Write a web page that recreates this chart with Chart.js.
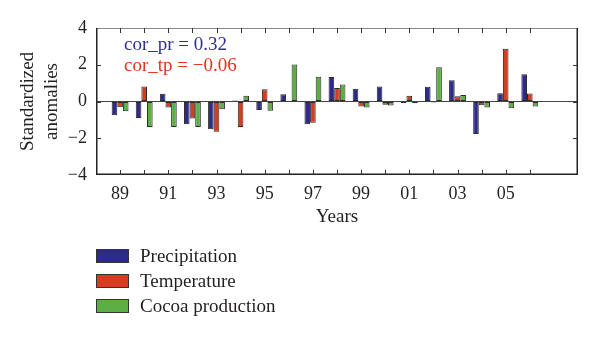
<!DOCTYPE html>
<html>
<head>
<meta charset="utf-8">
<script src="https://cdn.jsdelivr.net/npm/chart.js@4.4.1/dist/chart.umd.min.js"></script>
<style>
  html, body { margin: 0; padding: 0; background: #fff; }
  #wrap { position: relative; width: 600px; height: 338px; }
  #legend { position: absolute; left: 96px; top: 243px; font-family: "Liberation Serif", serif; font-size: 19px; color: #231f20; }
  .item { display: flex; align-items: center; height: 25px; }
  .swatch { width: 33px; height: 14px; border: 1px solid #333; box-sizing: border-box; margin-right: 11px; }
</style>
</head>
<body>
<div id="wrap">
  <canvas id="chart" width="600" height="338"></canvas>
  <div id="legend"></div>
</div>
<script>
const years = [1989, 1990, 1991, 1992, 1993, 1994, 1995, 1996, 1997, 1998, 1999, 2000, 2001, 2002, 2003, 2004, 2005, 2006];
const precipitation = [-0.75, -0.9, 0.42, -1.24, -1.51, 0.05, -0.46, 0.4, -1.24, 1.33, 0.69, 0.82, -0.08, 0.8, 1.16, -1.77, 0.45, 1.48];
const temperature = [-0.31, 0.82, -0.33, -0.93, -1.64, -1.39, 0.67, 0.02, -1.15, 0.73, -0.27, -0.18, 0.31, -0.05, 0.29, -0.2, 2.87, 0.44];
const cocoa = [-0.53, -1.39, -1.39, -1.39, -0.42, 0.31, -0.51, 2.02, 1.35, 0.93, -0.33, -0.22, -0.1, 1.86, 0.36, -0.33, -0.37, -0.27];
const yTicks = [-4, -2, 0, 2, 4];
const notes = [
  { text: "cor_pr = 0.32", color: "#2e3192" },
  { text: "cor_tp = \u22120.06", color: "#e2341d" },
];

const serif = "'Liberation Serif', 'Times New Roman', serif";

// axis runs one year before the first value and two after the last
const labels = [String(years[0] - 1), ...years.map(String), String(years[years.length - 1] + 1), String(years[years.length - 1] + 2)];
function pad(values) {
  return [null, ...values, null, null];
}

const framePlugin = {
  id: "frame",
  afterDraw(chart) {
    const { ctx, chartArea: a, scales } = chart;
    const x = scales.x;
    const y = scales.y;
    ctx.save();
    // top edge is lighter in the original
    ctx.strokeStyle = "#8a8a8a";
    ctx.lineWidth = 1;
    ctx.beginPath();
    ctx.moveTo(a.left, a.top + 0.5);
    ctx.lineTo(a.right, a.top + 0.5);
    ctx.stroke();

    ctx.strokeStyle = "#222";
    ctx.lineWidth = 1.5;
    ctx.beginPath();
    ctx.moveTo(a.left + 0.75, a.top);
    ctx.lineTo(a.left + 0.75, a.bottom - 0.75);
    ctx.lineTo(a.right - 0.75, a.bottom - 0.75);
    ctx.lineTo(a.right - 0.75, a.top);
    ctx.stroke();

    ctx.lineWidth = 1;
    ctx.strokeStyle = "#333";
    ctx.beginPath();
    years.forEach((yr) => {
      const px = Math.round(x.getPixelForValue(labels.indexOf(String(yr)))) + 0.5;
      ctx.moveTo(px, a.bottom);
      ctx.lineTo(px, a.bottom - 5);
      ctx.moveTo(px, a.top);
      ctx.lineTo(px, a.top + 5);
    });
    yTicks.slice(1, -1).forEach((v) => {
      const py = Math.round(y.getPixelForValue(v)) + 0.5;
      ctx.moveTo(a.left, py);
      ctx.lineTo(a.left + 5, py);
      ctx.moveTo(a.right, py);
      ctx.lineTo(a.right - 5, py);
    });
    ctx.stroke();

    ctx.font = "19px " + serif;
    ctx.textBaseline = "alphabetic";
    notes.forEach((n, i) => {
      ctx.fillStyle = n.color;
      ctx.fillText(n.text, a.left + 28, a.top + 22 + i * 21);
    });
    ctx.restore();
  },
};

const chart = new Chart(document.getElementById("chart"), {
  type: "bar",
  data: {
    labels: labels,
    datasets: [
      { label: "Precipitation", data: pad(precipitation), backgroundColor: "#2d2a8c" },
      { label: "Temperature", data: pad(temperature), backgroundColor: "#d83b1f" },
      { label: "Cocoa production", data: pad(cocoa), backgroundColor: "#5cb043" },
    ].map((d) => ({ ...d, borderColor: "#2a2a2a", borderWidth: 1, borderSkipped: false })),
  },
  options: {
    responsive: false,
    animation: false,
    devicePixelRatio: 1,
    layout: { padding: { left: 0, right: 22, top: 28, bottom: 103 } },
    plugins: {
      legend: { display: false },
      tooltip: { enabled: false },
    },
    datasets: { bar: { categoryPercentage: 0.7, barPercentage: 1 } },
    scales: {
      x: {
        offset: false,
        grid: { display: false, drawTicks: false },
        border: { display: false },
        ticks: {
          autoSkip: false,
          maxRotation: 0,
          padding: 8,
          color: "#231f20",
          font: { family: serif, size: 18 },
          callback: function (value) {
            const yr = Number(this.getLabelForValue(value));
            if (yr % 2 === 1 && yr >= years[0] && yr <= 2005) return String(yr).slice(2);
            return "";
          },
        },
        title: {
          display: true,
          text: "Years",
          color: "#231f20",
          font: { family: serif, size: 19 },
          padding: { top: 0, bottom: 7 },
        },
        afterFit(scale) {
          scale.height = 60;
        },
      },
      y: {
        min: -4,
        max: 4,
        grid: {
          drawTicks: false,
          color: (c) => (c.tick && c.tick.value === 0 ? "#444" : "rgba(0,0,0,0)"),
        },
        border: { display: false },
        ticks: {
          stepSize: 2,
          padding: 9,
          color: "#231f20",
          font: { family: serif, size: 18 },
          callback: (v) => String(v).replace("-", "\u2212"),
        },
        title: {
          display: true,
          text: ["Standardized", "anomalies"],
          color: "#231f20",
          font: { family: serif, size: 19, lineHeight: 1.25 },
          padding: { top: 16, bottom: 0 },
        },
        afterFit(scale) {
          scale.width = 96;
        },
      },
    },
  },
  plugins: [framePlugin],
});

const legendEl = document.getElementById("legend");
chart.data.datasets.forEach((ds) => {
  const item = document.createElement("div");
  item.className = "item";
  const sw = document.createElement("span");
  sw.className = "swatch";
  sw.style.background = ds.backgroundColor;
  const txt = document.createElement("span");
  txt.textContent = ds.label;
  item.appendChild(sw);
  item.appendChild(txt);
  legendEl.appendChild(item);
});
</script>
</body>
</html>
